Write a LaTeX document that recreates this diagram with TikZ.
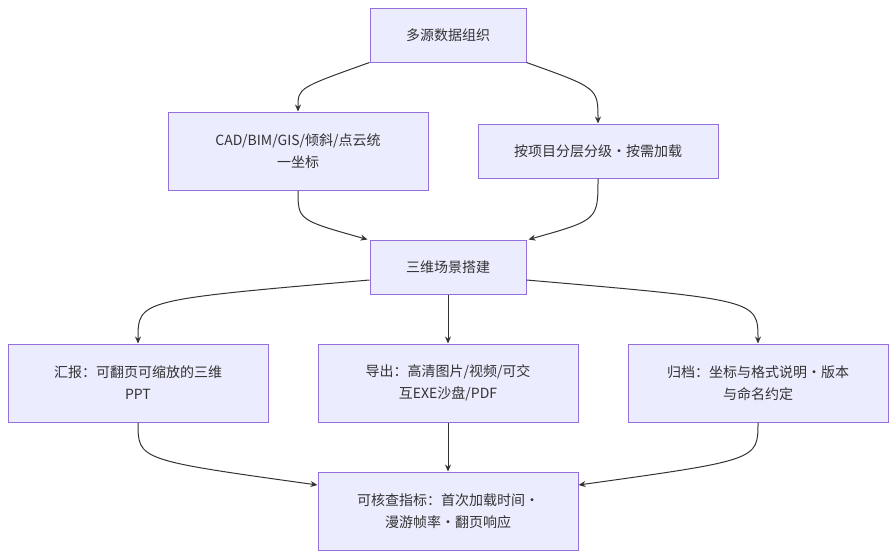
\documentclass[tikz,border=0pt]{standalone}
\usepackage{fontspec}
\setmainfont{Noto Sans CJK SC}
\usetikzlibrary{arrows.meta,calc}
\definecolor{boxfill}{HTML}{ECECFF}
\definecolor{boxline}{HTML}{9370DB}
\definecolor{txt}{HTML}{333333}
\tikzset{
	box/.style={draw=boxline, fill=boxfill, line width=1pt, text=txt,
		align=center, inner sep=0pt, font=\fontsize{14}{22}\selectfont},
	link/.style={draw=txt, line width=1pt, -{Stealth[length=7pt,width=6pt]}}
}
\begin{document}
\begin{tikzpicture}[x=1pt, y=-1pt]
	\useasboundingbox (0,0) rectangle (896,558);
	% Knoten
	\node[box, minimum width=156pt, minimum height=54pt] (org) at (448,35) {多源数据组织};
	\node[box, minimum width=260pt, minimum height=78pt] (coord) at (298,151) {CAD/BIM/GIS/倾斜/点云统\\一坐标};
	\node[box, minimum width=240pt, minimum height=54pt] (load) at (598,151) {按项目分层分级·按需加载};
	\node[box, minimum width=156pt, minimum height=54pt] (scene) at (448,267) {三维场景搭建};
	\node[box, minimum width=260pt, minimum height=78pt] (ppt) at (138,383) {汇报：可翻页可缩放的三维\\PPT};
	\node[box, minimum width=260pt, minimum height=78pt] (export) at (448,383) {导出：高清图片/视频/可交\\互EXE沙盘/PDF};
	\node[box, minimum width=260pt, minimum height=78pt] (archive) at (758,383) {归档：坐标与格式说明·版本\\与命名约定};
	\node[box, minimum width=260pt, minimum height=78pt] (check) at (448,511) {可核查指标：首次加载时间·\\漫游帧率·翻页响应};

	% Verbindungen
	\draw[link] (org.south west) .. controls (298,88) .. (coord.north);
	\draw[link] (org.south east) .. controls (598,88) .. (load.north);
	\draw[link] (coord.south) .. controls (298,220) .. ($(scene.north west)+(-2,0)$);
	\draw[link] (load.south) .. controls (598,220) .. ($(scene.north east)+(2,0)$);
	\draw[link] ($(scene.west)+(0,13)$) .. controls (138,300) .. (ppt.north);
	\draw[link] (scene.south) -- (export.north);
	\draw[link] ($(scene.east)+(0,13)$) .. controls (758,300) .. (archive.north);
	\draw[link] (ppt.south) .. controls (138,460) .. ($(check.west)+(0,-26)$);
	\draw[link] (export.south) -- (check.north);
	\draw[link] (archive.south) .. controls (758,460) .. ($(check.east)+(0,-26)$);
\end{tikzpicture}
\end{document}
